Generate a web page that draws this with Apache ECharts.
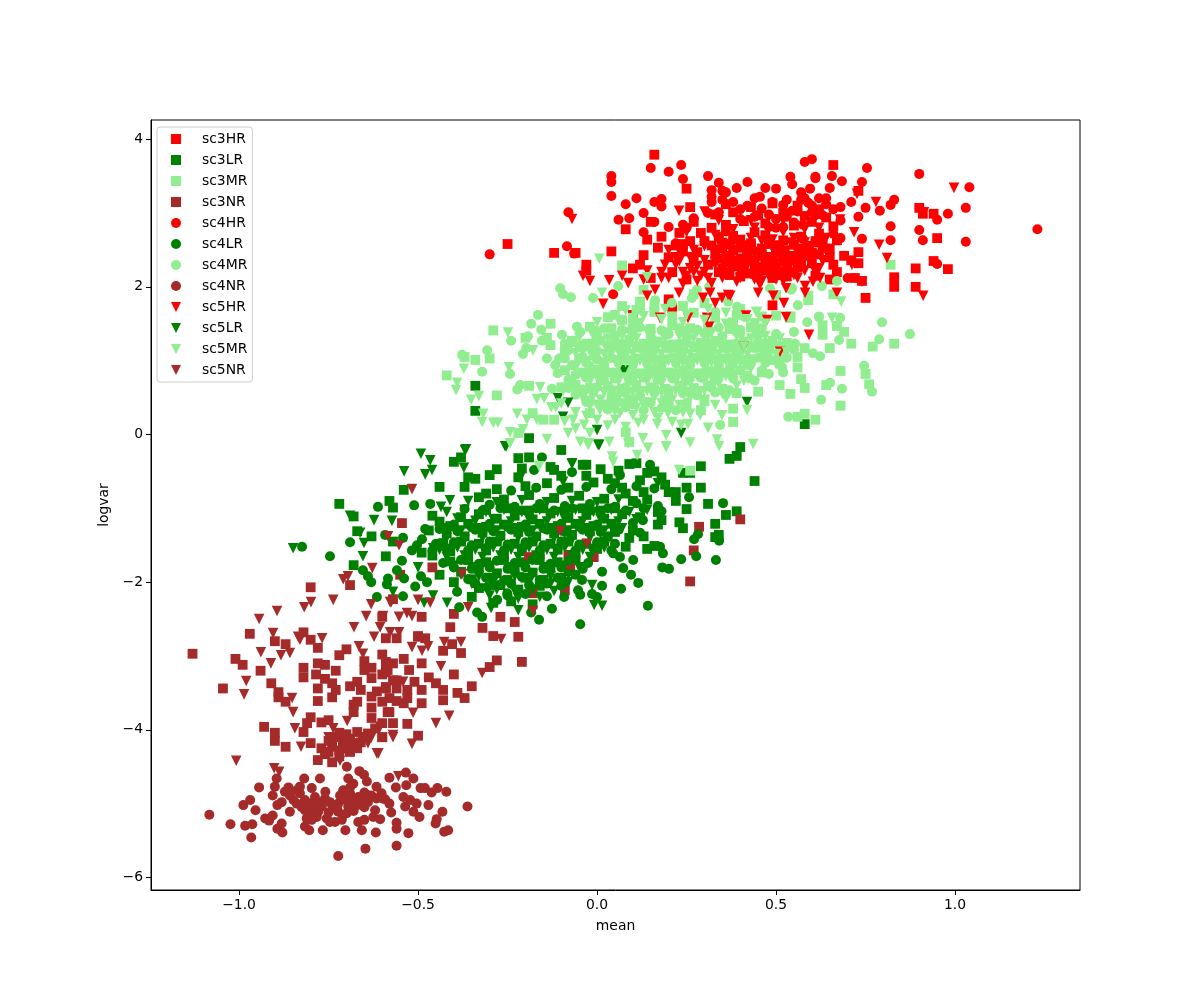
<!DOCTYPE html>
<html><head><meta charset="utf-8">
<style>html,body{margin:0;padding:0;background:#fff}#c{width:1200px;height:1000px}</style>
<script src="https://cdn.jsdelivr.net/npm/echarts@6/dist/echarts.min.js"></script>
</head><body><div id="c"></div>
<script>
const xTickValues=[-1,-0.5,0,0.5,1];
const xTickLabels=['\u22121.0','\u22120.5','0.0','0.5','1.0'];
const yTickValues=[-6,-4,-2,0,2,4];
const yTickLabels=['\u22126','\u22124','\u22122','0','2','4'];
const sc3HR=[[0.16,3.79],[0.25,3.33],[0.66,3.65],[0.73,3.30],[0.26,3.08],[0.15,2.88],[0.08,2.78],[0.14,2.64],[0.18,2.68],[0.17,2.53],[0.04,2.48],[-0.06,2.46],[-0.03,2.30],[-0.03,2.22],[-0.25,2.58],[-0.12,2.46],[0.10,2.25],[0.29,2.73],[0.32,2.80],[0.34,2.68],[0.38,2.69],[0.28,2.47],[0.44,2.74],[0.43,2.59],[0.90,3.07],[0.91,2.99],[0.94,2.99],[0.95,2.66],[0.94,2.35],[0.89,2.25],[0.98,2.24],[0.83,2.13],[0.83,2.00],[0.89,2.00],[0.75,1.85],[0.74,2.08],[0.72,2.12],[0.73,2.47],[0.73,2.32],[0.69,2.42],[0.65,2.40],[0.60,2.46],[0.61,2.62],[0.67,2.20],[0.71,2.36],[0.10,1.62],[0.49,1.75],[0.21,1.71],[0.20,1.83],
[0.36,3.12],[0.43,3.08],[0.49,3.13],[0.56,3.10],[0.62,3.05],[0.33,2.98],[0.38,3.01],[0.45,2.97],[0.52,3.00],[0.58,2.96],[0.64,2.94],[0.27,2.88],[0.36,2.84],[0.41,2.89],[0.47,2.86],[0.55,2.83],[0.60,2.88],[0.66,2.82],[0.23,2.73],[0.30,2.62],[0.35,2.60],[0.40,2.64],[0.47,2.70],[0.52,2.63],[0.57,2.68],[0.62,2.72],[0.67,2.63],[0.22,2.56],[0.27,2.35],[0.33,2.44],[0.38,2.50],[0.42,2.44],[0.46,2.52],[0.50,2.47],[0.54,2.42],[0.57,2.52],[0.63,2.54],[0.31,2.30],[0.36,2.33],[0.40,2.28],[0.44,2.36],[0.48,2.30],[0.52,2.34],[0.56,2.26],[0.60,2.32],[0.66,2.30],[0.34,2.20],[0.42,2.18],[0.47,2.22],[0.51,2.16],[0.55,2.20],[0.61,2.15],[0.65,2.10],[0.21,2.20],[0.25,2.10],[0.13,2.43],[0.20,2.40],[0.24,2.58],[0.12,2.30],[0.15,2.12],
[0.32,2.56],[0.35,2.52],[0.37,2.58],[0.40,2.53],[0.43,2.56],[0.48,2.58],[0.51,2.54],[0.55,2.57],[0.59,2.53],[0.34,2.38],[0.37,2.42],[0.39,2.36],[0.42,2.40],[0.46,2.42],[0.49,2.38],[0.52,2.41],[0.56,2.37],[0.58,2.42],[0.35,2.25],[0.38,2.28],[0.41,2.23],[0.44,2.26],[0.47,2.30],[0.50,2.26],[0.53,2.23],[0.57,2.30],[0.37,2.16],[0.40,2.14],[0.45,2.16],[0.49,2.12],[0.53,2.14],[0.24,2.48],[0.26,2.62],[0.62,2.60],[0.65,2.52],[0.62,2.44]];
const sc3LR=[[0.58,0.14],[0.40,-0.17],[0.39,-0.29],[0.37,-0.33],[-0.34,0.66],[-0.34,0.32],[-0.19,-0.05],[-0.10,-0.21],[-0.22,-0.32],[-0.19,-0.31],[-0.40,-0.37],[-0.38,-0.31],[-0.44,-0.71],[-0.54,-0.75],[-0.72,-0.94],[-0.58,-0.90],[-0.57,-0.99],[-0.68,-1.11],[-0.67,-1.31],[-0.63,-1.38],[-0.57,-1.45],[-0.59,-1.65],[-0.68,-1.77],[-0.28,-0.47],[-0.30,-0.55],[-0.34,-0.60],[-0.37,-0.71],[-0.36,-0.58],[-0.21,-0.46],[-0.13,-0.44],[-0.12,-0.48],[-0.04,-0.41],[-0.03,-0.41],[-0.03,-0.56],[0.09,-0.40],[0.11,-0.39],[0.29,-0.43],[0.24,-0.52],[0.26,-0.52],[0.05,-0.66],[0.18,-0.58],[0.29,-0.72],[0.20,-0.78],[0.22,-0.78],[0.13,-0.78],[0.10,-0.90],[0.31,-0.94],[0.25,-1.01],[0.36,-1.09],[0.39,-1.04],[0.44,-0.63],[0.18,-1.16],[0.23,-1.19],[0.24,-1.27],[0.33,-1.21],[0.33,-1.39],[0.34,-1.36],[0.14,-1.55],[0.16,-1.51],[0.09,-1.40],[-0.01,-1.66],[0.05,-1.32],
[-0.33,-0.85],[-0.26,-0.88],[-0.19,-0.82],[-0.12,-0.86],[-0.05,-0.83],[0.02,-0.87],[0.08,-0.80],[0.14,-0.88],[-0.38,-1.12],[-0.33,-1.08],[-0.28,-1.14],[-0.23,-1.10],[-0.18,-1.15],[-0.13,-1.07],[-0.08,-1.13],[-0.03,-1.09],[0.02,-1.14],[0.07,-1.08],[0.12,-1.12],[0.17,-1.05],[-0.44,-1.18],[-0.42,-1.34],[-0.37,-1.38],[-0.32,-1.33],[-0.27,-1.37],[-0.22,-1.32],[-0.17,-1.38],[-0.12,-1.34],[-0.07,-1.36],[-0.02,-1.31],[0.03,-1.38],[0.10,-1.30],[-0.46,-1.64],[-0.41,-1.58],[-0.36,-1.62],[-0.31,-1.57],[-0.26,-1.63],[-0.21,-1.58],[-0.16,-1.62],[-0.11,-1.56],[-0.06,-1.61],[0.0,-1.55],[-0.38,-1.86],[-0.33,-1.82],[-0.28,-1.88],[-0.23,-1.83],[-0.18,-1.87],[-0.13,-1.81],[-0.08,-1.85],[-0.33,-2.08],[-0.27,-2.04],[-0.22,-2.10],[-0.16,-2.05],[-0.24,-2.26],[-0.18,-2.30],[-0.29,-2.28],
[-0.31,-1.02],[-0.25,-1.00],[-0.19,-1.03],[-0.15,-1.00],[-0.09,-1.03],[-0.04,-1.00],[0.01,-1.03],[0.05,-1.00],[-0.41,-1.24],[-0.36,-1.21],[-0.31,-1.25],[-0.26,-1.22],[-0.21,-1.25],[-0.16,-1.21],[-0.11,-1.24],[-0.06,-1.21],[-0.01,-1.24],[0.04,-1.21],[-0.43,-1.47],[-0.38,-1.45],[-0.33,-1.48],[-0.28,-1.45],[-0.23,-1.48],[-0.18,-1.45],[-0.13,-1.48],[-0.08,-1.45],[-0.03,-1.48],[0.02,-1.45],[-0.41,-1.72],[-0.36,-1.70],[-0.31,-1.73],[-0.26,-1.70],[-0.21,-1.73],[-0.16,-1.70],[-0.11,-1.73],[-0.06,-1.70],[-0.35,-1.96],[-0.30,-1.94],[-0.25,-1.97],[-0.20,-1.94],[-0.15,-1.97],[-0.10,-1.94],
[-0.20,-0.70],[-0.14,-0.66],[-0.08,-0.72],[-0.01,-0.65],[0.03,-0.60],[0.07,-0.72],[0.12,-0.62],[0.16,-0.50],[0.19,-0.68],[0.14,-0.52],[-0.28,-0.74],[-0.31,-0.80],[-0.22,-0.58],[-0.10,-0.56],[0.01,-0.47],[0.06,-0.49],[0.22,-0.90],[0.25,-0.72],[0.17,-1.22],[0.13,-1.38],[0.08,-1.52],[-0.46,-1.10],[-0.47,-1.30],[-0.49,-1.60],[-0.35,-2.20],[-0.40,-2.00],[-0.44,-1.90]];
const sc3MR=[[-0.29,1.41],[-0.13,1.50],[-0.20,1.31],[-0.13,1.21],[-0.14,1.31],[-0.30,1.03],[-0.34,1.01],[-0.37,1.05],[-0.42,0.80],[-0.28,0.53],[-0.19,0.66],[-0.18,0.29],[-0.15,0.20],[-0.12,0.20],[-0.02,0.29],[0.03,0.37],[0.08,0.03],[0.09,-0.10],[-0.22,0.02],[-0.07,1.25],[-0.09,1.13],[0.07,1.55],[0.03,1.59],[0.83,1.23],[0.77,1.19],[0.68,0.86],[0.75,0.82],[0.76,0.68],[0.68,0.39],[0.58,0.28],[0.61,0.20],[0.56,0.24],[0.54,0.55],[0.58,0.63],[0.57,0.75],[0.56,0.91],[0.56,1.05],[0.58,1.17],[0.65,1.17],[0.71,1.23],[0.69,1.39],[0.63,1.35],[0.63,1.48],[0.67,1.47],[0.54,1.58],[0.50,1.61],[0.38,1.52],[0.44,1.51],[0.64,0.67],[0.38,0.35],[0.38,0.17],[0.45,0.58],[0.39,0.56],[0.25,0.40],[0.29,0.33],[0.51,0.67],[0.82,2.30],[0.59,1.88],[0.66,1.90],[0.07,2.29],[0.13,1.96],[0.11,1.69],[0.12,1.72],[0.54,1.60],[0.50,1.89],[0.59,1.82],[0.26,-0.49],
[-0.02,1.46],[0.04,1.44],[0.10,1.47],[0.15,1.43],[0.21,1.48],[0.26,1.44],[0.31,1.46],[0.37,1.43],[0.43,1.45],[-0.07,1.27],[-0.03,1.23],[0.01,1.27],[0.05,1.24],[0.09,1.28],[0.13,1.23],[0.17,1.26],[0.21,1.22],[0.25,1.27],[0.29,1.24],[0.33,1.27],[0.37,1.22],[0.41,1.26],[0.45,1.23],[0.49,1.27],[0.53,1.24],[-0.05,1.03],[-0.01,1.07],[0.03,1.04],[0.07,1.08],[0.11,1.03],[0.15,1.06],[0.19,1.02],[0.23,1.07],[0.27,1.04],[0.31,1.08],[0.35,1.03],[0.39,1.06],[0.43,1.02],[0.47,1.06],[0.51,1.03],[-0.09,0.87],[-0.04,0.84],[0.0,0.88],[0.04,0.84],[0.08,0.87],[0.12,0.83],[0.16,0.88],[0.20,0.84],[0.24,0.87],[0.28,0.83],[0.32,0.86],[0.36,0.84],[0.40,0.87],[0.46,0.84],[-0.10,0.64],[-0.06,0.67],[-0.02,0.63],[0.03,0.66],[0.07,0.62],[0.11,0.67],[0.15,0.64],[0.19,0.62],[0.23,0.66],[0.27,0.63],[0.31,0.66],[0.35,0.62],[-0.02,0.46],[0.04,0.43],[0.09,0.47],[0.14,0.44],[0.19,0.46],[0.30,0.45],
[0.10,1.58],[0.16,1.66],[0.21,1.60],[0.27,1.65],[0.33,1.58],[0.39,1.62],[0.16,1.75],[0.24,1.74],[0.30,1.78],[0.46,1.60],[0.12,1.80],[0.07,1.74],[0.27,1.90],[0.40,1.70],[0.05,1.62]];
const sc3NR=[[-0.545,-1.20],[-0.80,-2.07],[-0.69,-2.04],[-0.57,-2.23],[-0.49,-2.47],[-0.60,-2.47],[-0.82,-2.68],[-0.41,-2.61],[-0.40,-2.43],[-0.32,-2.62],[-0.27,-2.47],[-0.23,-2.54],[-0.29,-2.73],[-0.50,-2.74],[-0.55,-1.90],[-0.46,-1.80],[0.285,-1.25],[0.40,-1.15],[0.27,-1.57],[0.26,-1.99],[-0.09,-2.11],[-0.22,-2.74],[-0.405,-2.84],[-0.43,-2.93],[-0.38,-2.96],[-0.21,-3.08],[-0.28,-3.06],[-0.30,-3.15],[-0.40,-3.25],[-0.35,-3.41],[-0.47,-3.29],[-0.45,-3.37],[-0.43,-3.46],[-0.39,-3.50],[-0.37,-3.57],[-0.43,-3.60],[-0.49,-3.64],[-0.54,-3.04],[-0.49,-3.10],[-0.525,-3.19],[-0.51,-3.35],[-0.49,-3.46],[-0.53,-3.46],[-0.53,-3.57],[-0.56,-3.44],[-0.58,-3.57],[-0.56,-3.61],[-0.54,-3.64],[-0.58,-3.76],[-0.53,-3.92],[-0.50,-4.08],[-0.57,-3.91],[-0.60,-3.91],[-0.60,-4.10],[-0.50,-2.73],[-0.56,-2.76],[-0.59,-2.76],[-0.48,-2.76],[-0.57,-3.33],[-0.59,-3.10],[-0.57,-3.10],[-0.59,-3.22],[-0.59,-3.44],[-0.97,-2.70],[-1.13,-2.97],[-0.90,-2.80],[-0.87,-2.84],[-0.80,-2.78],[-0.78,-2.89],[-0.70,-2.91],[-0.72,-2.99],[-1.01,-3.04],[-0.99,-3.12],[-0.94,-3.20],[-0.78,-3.10],[-0.76,-3.12],[-0.73,-3.20],[-0.82,-3.16],[-0.82,-3.29],[-0.785,-3.25],[-0.76,-3.31],[-0.74,-3.37],[-0.78,-3.44],[-0.73,-3.46],[-0.74,-3.56],[-0.78,-3.61],[-1.045,-3.44],[-0.91,-3.37],[-0.89,-3.49],[-0.89,-3.56],[-0.87,-3.62],[-0.69,-3.41],[-0.67,-3.35],[-0.66,-3.46],[-0.615,-3.48],[-0.59,-3.42],[-0.65,-3.07],[-0.65,-3.19],[-0.63,-3.16],[-0.60,-2.98],[-0.59,-3.08],[-0.585,-3.19],[-0.56,-3.33],[-0.67,-3.62],[-0.68,-3.66],[-0.68,-3.76],[-0.63,-3.70],[-0.585,-3.76],[-0.63,-3.84],[-0.80,-3.83],[-0.81,-3.91],[-0.77,-3.90],[-0.75,-3.87],[-0.82,-4.03],[-0.93,-3.96],[-0.90,-4.04],[-0.90,-4.15],[-0.87,-4.23],[-0.80,-4.18],[-0.60,-4.10],[-0.77,-4.25],[-0.74,-4.23],[-0.71,-4.14],[-0.67,-4.03],[-0.68,-4.18],[-0.66,-4.17],[-0.72,-4.04],[-0.78,-4.41],[-0.74,-4.44],[-0.72,-4.28],[-0.70,-4.22],[-0.76,-4.33],[-0.72,-4.36],[-0.19,-1.66],[-0.08,-1.63],[-0.01,-1.66],[-0.075,-1.81],[-0.18,-2.15],[-0.75,-4.15],[-0.73,-4.10],[-0.70,-4.06],[-0.69,-4.12],[-0.75,-4.30],[-0.67,-4.25],[-0.71,-4.25],[-0.69,-4.30],[-0.64,-4.05],[-0.62,-3.98],[-0.63,-3.30],[-0.60,-3.25],[-0.63,-3.55],[-0.60,-3.62]];
const sc4HR=[[0.58,3.69],[0.60,3.73],[0.754,3.61],[0.656,3.50],[0.61,3.49],[0.684,3.43],[0.74,3.42],[0.90,3.53],[1.04,3.35],[0.65,3.34],[0.595,3.33],[0.83,3.18],[0.82,3.11],[0.79,3.03],[1.03,3.07],[0.98,2.99],[0.95,2.91],[0.82,2.82],[0.90,2.77],[1.23,2.78],[1.03,2.61],[0.91,2.63],[0.82,2.63],[0.74,2.65],[0.68,2.66],[0.95,2.31],[0.71,3.15],[0.75,3.07],[0.73,2.95],[0.68,3.08],[0.62,3.20],[0.64,3.20],[0.58,3.20],[0.63,2.97],[0.61,2.97],[0.70,2.12],[0.15,3.61],[0.20,3.56],[0.235,3.65],[0.24,3.46],[0.04,3.50],[0.04,3.42],[0.04,3.23],[0.11,3.20],[0.08,3.12],[0.16,3.15],[0.18,3.19],[0.18,3.09],[0.13,3.00],[0.09,2.93],[0.06,2.91],[0.16,2.88],[0.13,2.74],[-0.08,3.01],[-0.084,2.55],[-0.064,2.45],[-0.30,2.44],[0.045,1.90],[0.20,2.81],[0.31,3.50],[0.34,3.41],[0.32,3.31],[0.32,3.22],[0.32,3.15],[0.39,3.34],[0.42,3.42],[0.47,3.34],[0.50,3.33],[0.54,3.49],[0.545,3.39],[0.61,3.47],[0.35,3.30],[0.36,3.28],[0.38,3.15],[0.34,3.01],[0.31,3.00],[0.27,2.93],[0.24,2.84],[0.25,2.80],[0.455,3.22],[0.44,3.20],[0.46,3.06],[0.52,3.11],[0.545,3.03],[0.49,3.15],[0.57,3.18],[0.59,3.14],[0.60,3.01],[0.48,2.81],[0.52,2.81],[0.55,2.87],[0.575,2.84],[0.575,2.65],[0.50,2.80],[0.22,2.59],[0.42,3.10],[0.40,3.05],[0.35,3.18],[0.53,3.18],[0.56,3.02],[0.44,2.95],[0.50,2.92],[0.40,2.92],[0.57,3.28],[0.60,3.10],[0.66,3.05],[0.64,3.12],[0.53,2.95],[0.48,2.98],[0.36,2.75],[0.68,2.90],[0.66,2.72],[0.63,2.62]];
const sc4LR=[[0.064,-0.55],[-0.154,-0.31],[-0.176,-0.48],[-0.07,-0.51],[0.148,-0.41],[0.352,-0.93],[0.257,-0.85],[0.128,-1.16],[0.282,-1.35],[0.271,-1.42],[0.341,-1.44],[0.277,-1.65],[0.332,-1.70],[0.235,-1.69],[0.101,-1.70],[0.182,-1.80],[0.201,-1.82],[0.184,-1.61],[0.176,-1.52],[0.115,-2.01],[0.095,-1.90],[0.073,-1.81],[0.064,-1.66],[0.045,-1.61],[0.014,-1.86],[0.014,-2.05],[0.067,-2.09],[0.142,-2.32],[-0.047,-2.57],[-0.162,-2.51],[-0.126,-2.36],[-0.184,-2.41],[-0.092,-2.20],[-0.047,-2.17],[-0.014,-2.16],[0.0,-2.20],[-0.025,-1.74],[-0.053,-2.11],[-0.042,-1.97],[-0.824,-1.52],[-0.746,-1.65],[-0.69,-1.46],[-0.612,-0.98],[-0.511,-0.96],[-0.466,-0.94],[-0.48,-1.28],[-0.592,-1.36],[-0.542,-1.40],[-0.489,-1.42],[-0.503,-1.50],[-0.517,-1.57],[-0.545,-1.71],[-0.654,-1.84],[-0.64,-1.92],[-0.631,-2.00],[-0.584,-1.95],[-0.587,-2.03],[-0.559,-1.84],[-0.539,-1.95],[-0.615,-2.20],[-0.542,-2.19],[-0.492,-1.92],[-0.475,-2.00],[-0.508,-2.06],[-0.385,-2.34],[-0.321,-2.47],[-0.335,-2.41],[-0.279,-2.24],[-0.307,-2.07],[-0.422,-1.54],[-0.391,-2.13],[-0.251,-2.15],
[-0.30,-0.95],[-0.23,-0.98],[-0.16,-0.94],[-0.09,-0.97],[-0.02,-0.94],[0.05,-0.98],[0.11,-0.93],[0.17,-0.97],[-0.40,-1.22],[-0.35,-1.26],[-0.30,-1.21],[-0.25,-1.25],[-0.20,-1.22],[-0.15,-1.27],[-0.10,-1.21],[-0.05,-1.25],[0.0,-1.22],[0.05,-1.26],[0.10,-1.20],[-0.45,-1.48],[-0.40,-1.46],[-0.35,-1.50],[-0.30,-1.45],[-0.25,-1.49],[-0.20,-1.46],[-0.15,-1.50],[-0.10,-1.45],[-0.05,-1.49],[0.0,-1.46],[0.05,-1.48],[-0.43,-1.74],[-0.38,-1.70],[-0.33,-1.75],[-0.28,-1.71],[-0.23,-1.74],[-0.18,-1.70],[-0.13,-1.75],[-0.08,-1.71],[-0.36,-1.96],[-0.31,-1.94],[-0.26,-1.98],[-0.21,-1.93],[-0.16,-1.97],[-0.11,-1.94],[-0.06,-1.90],[-0.25,-2.18],[-0.20,-2.16],[-0.14,-2.19],[-0.10,-2.05],
[-0.17,-0.72],[-0.10,-0.75],[-0.03,-0.71],[0.04,-0.74],[0.11,-0.70],[0.16,-0.73],[-0.24,-0.76],[-0.37,-1.01],[-0.32,-1.03],[-0.27,-1.00],[-0.21,-1.03],[-0.17,-1.00],[-0.12,-1.03],[-0.07,-1.00],[-0.02,-1.03],[0.03,-1.00],[0.08,-1.03],[0.13,-1.00],[0.18,-1.04],[-0.44,-1.28],[-0.39,-1.31],[-0.34,-1.29],[-0.29,-1.31],[-0.24,-1.29],[-0.19,-1.32],[-0.14,-1.29],[-0.09,-1.32],[-0.04,-1.29],[0.01,-1.32],[0.06,-1.29],[0.12,-1.33],[-0.46,-1.57],[-0.41,-1.54],[-0.36,-1.57],[-0.31,-1.54],[-0.26,-1.57],[-0.21,-1.54],[-0.16,-1.57],[-0.11,-1.54],[-0.06,-1.57],[-0.01,-1.54],[0.04,-1.57],[-0.40,-1.80],[-0.35,-1.82],[-0.30,-1.80],[-0.25,-1.82],[-0.20,-1.80],[-0.15,-1.82],[-0.10,-1.80],[-0.04,-1.82],[-0.34,-2.02],[-0.29,-2.04],[-0.24,-2.02],[-0.19,-2.04],[-0.14,-2.02],[-0.09,-2.00]];
const sc4MR=[[-0.103,1.98],[-0.095,1.90],[-0.073,1.86],[-0.011,1.85],[0.059,2.01],[-0.165,1.62],[-0.184,1.50],[-0.156,1.42],[-0.193,1.33],[-0.098,1.35],[-0.24,1.27],[-0.154,1.27],[-0.056,1.46],[-0.047,1.39],[-0.003,1.41],[-0.377,1.08],[-0.307,1.14],[-0.321,0.85],[-0.243,0.82],[-0.207,1.09],[-0.198,1.17],[-0.14,1.03],[-0.117,0.94],[-0.106,1.03],[-0.215,0.67],[-0.223,0.61],[-0.126,0.62],[0.796,1.52],[0.788,1.29],[0.874,1.36],[0.746,0.93],[0.768,0.58],[0.684,0.62],[0.626,0.47],[0.534,0.24],[0.651,0.70],[0.676,1.28],[0.603,1.10],[0.623,1.06],[0.587,1.52],[0.62,1.59],[0.679,1.58],[0.628,2.01],[0.67,2.08],[0.162,1.82],[0.209,1.78],[0.391,1.73],[0.366,1.80],[0.33,1.66],[0.561,1.75],[0.542,1.96],[0.55,1.39],[0.553,1.23],[0.483,1.01],[0.517,0.91],[0.461,0.87],[0.427,0.76],[0.372,0.91],[0.268,0.58],[0.344,0.13],[0.279,1.96],[0.313,2.00],[0.265,1.85],[0.413,1.59],[0.483,1.98],[0.545,1.98],[0.62,1.60],
[0.0,1.37],[0.05,1.34],[0.10,1.38],[0.15,1.33],[0.20,1.36],[0.25,1.34],[0.30,1.37],[0.35,1.33],[0.40,1.37],[0.45,1.34],[0.50,1.36],[-0.08,1.14],[-0.04,1.17],[0.0,1.13],[0.04,1.16],[0.08,1.13],[0.12,1.17],[0.16,1.14],[0.20,1.16],[0.24,1.12],[0.28,1.17],[0.32,1.13],[0.36,1.16],[0.40,1.13],[0.44,1.17],[0.48,1.13],[0.52,1.16],[-0.07,0.94],[-0.03,0.97],[0.02,0.93],[0.06,0.97],[0.10,0.94],[0.14,0.96],[0.18,0.93],[0.22,0.97],[0.26,0.94],[0.30,0.97],[0.34,0.93],[0.38,0.97],[0.42,0.94],[0.47,0.97],[-0.08,0.74],[-0.03,0.77],[0.01,0.73],[0.05,0.76],[0.09,0.73],[0.13,0.77],[0.17,0.74],[0.21,0.76],[0.25,0.73],[0.29,0.77],[0.33,0.74],[0.38,0.76],[0.44,0.73],[-0.06,0.54],[-0.01,0.57],[0.04,0.53],[0.08,0.56],[0.12,0.53],[0.16,0.57],[0.20,0.53],[0.24,0.56],[0.28,0.53],[0.33,0.57],[0.03,0.34],[0.08,0.37],[0.13,0.33],[0.18,0.36],[0.22,0.33],
[0.02,1.44],[0.07,1.42],[0.12,1.45],[0.18,1.41],[0.23,1.44],[0.28,1.42],[0.34,1.45],[0.40,1.42],[0.46,1.44],[-0.09,1.23],[-0.05,1.21],[-0.01,1.24],[0.03,1.21],[0.07,1.23],[0.11,1.20],[0.15,1.24],[0.19,1.21],[0.23,1.23],[0.27,1.20],[0.31,1.24],[0.35,1.21],[0.39,1.23],[0.43,1.20],[0.47,1.24],[0.51,1.20],[0.55,1.15],[-0.09,1.03],[-0.04,1.05],[0.0,1.02],[0.04,1.04],[0.09,1.01],[0.13,1.05],[0.17,1.02],[0.21,1.04],[0.25,1.01],[0.29,1.05],[0.33,1.02],[0.37,1.04],[0.41,1.01],[0.45,1.04],[0.49,1.01],[0.53,1.04],[-0.11,0.83],[-0.06,0.81],[-0.02,0.84],[0.02,0.81],[0.06,0.84],[0.10,0.80],[0.14,0.84],[0.18,0.81],[0.22,0.83],[0.26,0.80],[0.30,0.84],[0.34,0.81],[0.38,0.83],[0.42,0.80],[0.48,0.82],[0.52,0.84],[-0.08,0.63],[-0.04,0.61],[0.0,0.64],[0.04,0.61],[0.08,0.64],[0.12,0.60],[0.16,0.63],[0.20,0.60],[0.24,0.63],[0.28,0.60],[0.32,0.63],[0.37,0.60],[-0.03,0.44],[0.02,0.41],[0.06,0.44],[0.10,0.41],[0.15,0.43],[0.20,0.40],[0.25,0.43]];
const sc4NR=[[-1.083,-5.15],[-1.024,-5.28],[-0.983,-5.30],[-0.963,-5.28],[-0.966,-5.46],[-0.988,-5.02],[-0.969,-4.95],[-0.954,-5.09],[-0.944,-4.78],[-0.927,-5.20],[-0.916,-5.23],[-0.906,-5.16],[-0.893,-5.34],[-0.879,-5.39],[-0.881,-5.27],[-0.858,-5.11],[-0.906,-4.89],[-0.893,-5.02],[-0.90,-4.77],[-0.895,-4.66],[-0.872,-4.84],[-0.862,-4.78],[-0.881,-4.98],[-0.839,-4.82],[-0.83,-4.77],[-0.818,-4.66],[-0.797,-4.79],[-0.788,-4.91],[-0.839,-5.00],[-0.816,-4.95],[-0.774,-4.66],[-0.759,-4.84],[-0.816,-5.09],[-0.792,-5.07],[-0.769,-5.04],[-0.746,-4.98],[-0.811,-5.20],[-0.783,-5.18],[-0.816,-5.31],[-0.804,-5.36],[-0.766,-5.36],[-0.755,-5.20],[-0.732,-5.25],[-0.713,-5.22],[-0.723,-5.71],[-0.703,-5.36],[-0.647,-5.61],[-0.699,-4.50],[-0.695,-4.66],[-0.681,-4.73],[-0.709,-4.82],[-0.718,-4.89],[-0.69,-4.86],[-0.723,-5.00],[-0.723,-5.11],[-0.699,-5.13],[-0.681,-5.02],[-0.667,-4.91],[-0.664,-4.56],[-0.651,-4.61],[-0.643,-4.70],[-0.616,-4.77],[-0.643,-4.88],[-0.616,-4.93],[-0.592,-4.94],[-0.62,-5.09],[-0.606,-5.21],[-0.625,-5.18],[-0.667,-5.25],[-0.65,-5.22],[-0.657,-5.36],[-0.618,-5.39],[-0.575,-5.12],[-0.56,-5.26],[-0.56,-5.34],[-0.527,-5.40],[-0.56,-5.57],[-0.58,-4.65],[-0.562,-4.78],[-0.534,-4.58],[-0.533,-4.75],[-0.513,-4.66],[-0.541,-4.91],[-0.522,-4.95],[-0.536,-5.04],[-0.504,-5.00],[-0.513,-5.11],[-0.496,-5.18],[-0.493,-4.79],[-0.481,-4.79],[-0.462,-4.85],[-0.446,-4.79],[-0.421,-4.84],[-0.471,-5.02],[-0.432,-5.11],[-0.448,-5.21],[-0.451,-5.27],[-0.427,-5.38],[-0.416,-5.36],[-0.362,-5.04],[-0.858,-4.89],[-0.848,-4.95],[-0.802,-5.00],[-0.779,-5.11],[-0.727,-5.07],[-0.704,-4.95],[-0.695,-5.04],[-0.653,-4.93],[-0.63,-4.89],[-0.602,-4.86],[-0.797,-5.22],[-0.746,-5.25],[-0.83,-4.86],[-0.825,-5.05],[-0.785,-4.97],[-0.76,-4.93],[-0.80,-5.13],[-0.71,-4.90],[-0.69,-4.78],[-0.685,-4.95],[-0.67,-5.02],[-0.65,-4.85],[-0.60,-4.93],[-0.58,-5.00],[-0.74,-5.02],[-0.71,-5.15],[-0.68,-5.10],[-0.65,-5.05],[-0.77,-4.98],[-0.80,-5.06],[-0.64,-4.98],[-0.75,-5.12]];
const sc5HR=[[-0.07,2.92],[0.229,3.03],[-0.039,2.15],[-0.02,2.08],[0.034,2.09],[0.017,1.77],[0.14,1.88],[0.07,2.15],[0.087,2.05],[0.176,1.58],[0.254,1.58],[0.307,1.58],[0.313,1.46],[0.416,1.61],[0.475,1.55],[0.528,1.59],[0.592,1.35],[0.492,1.88],[0.522,1.78],[0.45,1.92],[0.455,2.03],[0.528,1.98],[0.581,1.92],[0.581,2.01],[0.372,1.88],[0.349,1.85],[0.33,1.78],[0.296,1.85],[0.316,1.92],[0.229,1.92],[0.162,1.96],[0.997,3.34],[0.913,3.01],[0.779,3.15],[0.718,2.74],[0.788,2.57],[0.81,2.39],[0.911,1.88],[0.67,1.92],[0.74,2.07],[0.679,2.91],[0.726,3.26],[0.631,2.36],[0.712,2.30],[0.603,2.07],[0.623,2.12],[0.41,1.19],[0.511,1.12],[0.366,1.89],
[0.25,2.74],[0.30,2.55],[0.33,2.70],[0.27,2.50],[0.22,2.30],[0.26,2.25],[0.30,2.20],[0.35,2.12],[0.39,2.07],[0.44,2.10],[0.48,2.14],[0.52,2.08],[0.56,2.12],[0.20,2.12],[0.24,2.04],[0.28,2.08],[0.32,2.05],[0.36,2.40],[0.40,2.38],[0.44,2.44],[0.48,2.40],[0.52,2.46],[0.56,2.38],[0.60,2.40],[0.38,2.25],[0.42,2.30],[0.46,2.26],[0.50,2.24],[0.54,2.30],[0.58,2.22],[0.62,2.25],[0.41,2.56],[0.46,2.62],[0.50,2.56],[0.54,2.60],[0.58,2.60],[0.36,2.54],[0.64,2.48],[0.44,2.80],[0.38,2.78],[0.52,2.74],[0.58,2.78],[0.62,2.80],[0.34,2.90],[0.43,2.90],[0.30,3.02],[0.52,2.90],[0.64,2.66],[0.19,2.30],[0.18,2.20],[0.14,2.22],[0.18,2.12],[0.13,2.10],[0.30,2.36],[0.33,2.30],
[0.34,2.50],[0.38,2.46],[0.41,2.50],[0.45,2.47],[0.49,2.52],[0.53,2.49],[0.56,2.46],[0.59,2.48],[0.33,2.34],[0.37,2.30],[0.41,2.35],[0.44,2.32],[0.47,2.36],[0.50,2.33],[0.54,2.36],[0.57,2.32],[0.36,2.19],[0.40,2.20],[0.43,2.17],[0.46,2.20],[0.49,2.19],[0.52,2.20],[0.55,2.16],[0.40,2.12],[0.46,2.08],[0.50,2.10],[0.24,2.20],[0.28,2.28],[0.26,2.40],[0.23,2.48],[0.29,2.15],[0.34,2.62],[0.38,2.60],[0.43,2.66],[0.49,2.64],[0.55,2.66],[0.22,2.40],[0.20,2.50],[0.25,2.15],[0.31,2.12],[0.27,2.20],[0.23,2.35],[0.60,2.55],[0.63,2.35],[0.61,2.20]];
const sc5LR=[[-0.492,-0.26],[-0.466,-0.35],[-0.461,-0.48],[-0.48,-0.54],[-0.539,-0.50],[-0.366,-0.20],[-0.254,-0.16],[-0.849,-1.54],[-0.69,-1.10],[-0.623,-1.16],[-0.573,-1.17],[-0.662,-1.33],[-0.651,-1.47],[-0.654,-1.65],[-0.458,-1.54],[-0.436,-0.98],[-0.411,-0.89],[-0.50,-1.80],[-0.57,-2.13],[-0.483,-2.28],[-0.458,-2.18],[-0.419,-2.28],[-0.296,-2.35],[-0.372,-0.45],[-0.014,-2.04],[-0.008,-2.31],[0.014,-2.32],[-0.07,-0.40],[-0.215,-0.59],[-0.095,-0.64],[0.006,-0.14],[0.17,-0.66],[-0.22,-2.38],[0.419,0.44],[0.235,0.02],[0.075,0.87],[-0.109,0.49],[-0.081,0.43],[-0.257,-0.16],[-0.369,-0.21],[-0.07,-0.39],[0.0,0.06],[0.003,-0.14],[-0.095,0.24],
[-0.36,-0.90],[-0.28,-0.92],[-0.21,-0.89],[-0.14,-0.92],[-0.07,-0.90],[0.0,-0.92],[0.06,-0.88],[-0.42,-1.05],[-0.37,-1.02],[-0.31,-1.05],[-0.26,-1.02],[-0.21,-1.05],[-0.16,-1.02],[-0.11,-1.05],[-0.06,-1.02],[-0.01,-1.05],[0.04,-1.02],[0.09,-1.05],[0.14,-1.02],[-0.43,-1.27],[-0.38,-1.30],[-0.33,-1.27],[-0.28,-1.30],[-0.23,-1.27],[-0.18,-1.30],[-0.13,-1.27],[-0.08,-1.30],[-0.03,-1.27],[0.02,-1.30],[0.07,-1.27],[-0.44,-1.56],[-0.39,-1.53],[-0.34,-1.56],[-0.29,-1.53],[-0.24,-1.56],[-0.19,-1.53],[-0.14,-1.56],[-0.09,-1.53],[-0.04,-1.56],[0.02,-1.53],[-0.40,-1.78],[-0.35,-1.80],[-0.30,-1.78],[-0.25,-1.80],[-0.20,-1.78],[-0.15,-1.80],[-0.10,-1.78],[-0.05,-1.80],[-0.35,-2.02],[-0.29,-2.00],[-0.24,-2.03],[-0.19,-2.00],[-0.13,-2.02],[-0.08,-2.00],[-0.30,-2.18],[-0.22,-2.22],[-0.16,-2.20],
[-0.39,-1.14],[-0.34,-1.17],[-0.29,-1.15],[-0.24,-1.18],[-0.19,-1.15],[-0.14,-1.18],[-0.09,-1.15],[-0.04,-1.18],[0.01,-1.15],[0.06,-1.18],[0.11,-1.15],[-0.42,-1.40],[-0.37,-1.43],[-0.32,-1.40],[-0.27,-1.43],[-0.22,-1.40],[-0.17,-1.43],[-0.12,-1.40],[-0.07,-1.43],[-0.02,-1.40],[0.03,-1.43],[-0.42,-1.66],[-0.37,-1.64],[-0.32,-1.66],[-0.27,-1.64],[-0.22,-1.66],[-0.17,-1.64],[-0.12,-1.66],[-0.07,-1.64],[-0.02,-1.66],[-0.38,-1.90],[-0.33,-1.92],[-0.28,-1.90],[-0.23,-1.92],[-0.18,-1.90],[-0.13,-1.92],[-0.08,-1.90],[-0.28,-2.10],[-0.23,-2.12],[-0.18,-2.10],[-0.12,-2.12]];
const sc5MR=[[0.014,1.92],[0.14,2.13],[-0.249,1.38],[-0.179,1.14],[-0.372,0.89],[-0.246,0.91],[-0.391,0.70],[-0.394,0.60],[-0.352,0.47],[-0.33,0.52],[-0.159,0.64],[-0.168,0.48],[-0.148,0.49],[-0.095,0.59],[-0.128,0.37],[-0.115,0.37],[-0.318,0.28],[-0.321,0.17],[-0.29,0.16],[-0.277,0.16],[-0.223,0.28],[-0.196,0.20],[-0.168,0.20],[-0.243,0.03],[-0.207,0.07],[-0.243,-0.12],[-0.14,-0.06],[-0.081,0.02],[-0.067,0.20],[-0.036,0.13],[-0.02,0.02],[-0.047,-0.10],[-0.022,-0.12],[0.034,-0.10],[0.112,-0.28],[0.045,-0.37],[0.128,-0.05],[0.142,-0.18],[0.115,0.16],[0.008,0.33],[0.064,0.29],[0.193,-0.16],[0.26,-0.11],[0.341,-0.16],[0.436,-0.13],[0.229,-0.48],[-0.162,-0.43],[0.042,-0.30],[0.087,-0.12],[-0.025,-0.14],[0.682,1.80],[0.656,1.58],[0.444,1.66],[0.193,-0.01],[0.193,-0.17],[0.31,0.09],[0.335,-0.07],[0.254,0.14],[0.235,0.13],[0.198,0.29],[0.168,0.14],[0.288,0.26],[0.349,0.26],[0.419,0.33],[0.302,0.47],[0.006,2.38],[0.447,1.66],[0.08,0.10],[0.03,0.12],[0.13,0.20],
[0.0,1.52],[0.06,1.55],[0.12,1.51],[0.18,1.56],[0.24,1.52],[0.30,1.55],[0.36,1.50],[-0.05,1.31],[-0.01,1.33],[0.03,1.30],[0.07,1.33],[0.11,1.30],[0.15,1.33],[0.19,1.30],[0.23,1.33],[0.27,1.30],[0.31,1.33],[0.35,1.30],[0.39,1.33],[0.43,1.30],[0.47,1.33],[0.51,1.30],[-0.06,1.10],[-0.02,1.12],[0.02,1.09],[0.06,1.12],[0.10,1.09],[0.14,1.12],[0.18,1.09],[0.22,1.12],[0.26,1.09],[0.30,1.12],[0.34,1.09],[0.38,1.12],[0.42,1.09],[0.46,1.12],[0.50,1.09],[-0.06,0.90],[-0.02,0.92],[0.02,0.89],[0.06,0.92],[0.10,0.89],[0.14,0.92],[0.18,0.89],[0.22,0.92],[0.26,0.89],[0.30,0.92],[0.34,0.89],[0.38,0.92],[0.43,0.89],[-0.07,0.70],[-0.02,0.72],[0.02,0.69],[0.06,0.72],[0.10,0.69],[0.14,0.72],[0.18,0.69],[0.22,0.72],[0.26,0.69],[0.30,0.72],[0.34,0.69],[0.39,0.66],[-0.04,0.50],[0.01,0.47],[0.06,0.50],[0.11,0.47],[0.16,0.50],[0.21,0.47],[0.26,0.50],[-0.02,0.38],[0.05,0.32],[0.11,0.36],[0.16,0.30],[0.24,0.30],
[0.04,1.40],[0.09,1.38],[0.14,1.40],[0.20,1.38],[0.25,1.40],[0.32,1.38],[0.38,1.40],[0.44,1.38],[-0.04,1.18],[0.0,1.20],[0.04,1.17],[0.09,1.19],[0.13,1.16],[0.17,1.19],[0.21,1.16],[0.25,1.19],[0.29,1.16],[0.33,1.19],[0.37,1.16],[0.41,1.19],[0.45,1.16],[0.49,1.19],[0.53,1.12],[-0.03,0.99],[0.01,0.97],[0.05,1.00],[0.08,0.98],[0.12,1.00],[0.16,0.97],[0.20,1.00],[0.24,0.98],[0.28,1.00],[0.32,0.97],[0.36,1.00],[0.40,0.97],[0.44,1.00],[0.50,0.95],[-0.04,0.79],[0.0,0.77],[0.04,0.79],[0.08,0.77],[0.12,0.79],[0.16,0.77],[0.20,0.79],[0.24,0.77],[0.28,0.79],[0.32,0.77],[0.36,0.79],[0.41,0.73],[-0.03,0.59],[0.02,0.57],[0.06,0.59],[0.10,0.57],[0.14,0.59],[0.18,0.57],[0.22,0.59],[0.26,0.57],[0.30,0.59],[0.35,0.55],[0.0,0.40],[0.07,0.42],[0.13,0.40],[0.18,0.42],[0.23,0.40],
[-0.06,0.30],[-0.09,0.18],[0.0,0.20],[0.05,0.20],[0.10,0.26],[0.17,0.22],[0.21,0.17],[0.26,0.28],[0.33,0.40],[0.36,0.48],[-0.10,0.42],[-0.06,0.08],[-0.03,0.25],[0.08,1.68],[0.13,1.60],[0.19,1.70],[0.25,1.62],[0.31,1.70],[0.36,1.65],[0.42,1.56],[0.47,1.50]];
const sc5NR=[[-0.709,-1.96],[-0.696,-1.92],[-0.737,-2.24],[-0.799,-2.27],[-0.818,-2.34],[-0.894,-2.39],[-0.944,-2.50],[-0.905,-2.69],[-0.835,-2.74],[-0.83,-2.78],[-0.768,-2.76],[-0.939,-2.95],[-0.883,-2.99],[-0.858,-2.96],[-0.911,-3.10],[-0.98,-3.34],[-0.986,-3.52],[-0.849,-3.76],[-0.852,-3.57],[-0.844,-3.98],[-0.827,-4.23],[-1.008,-4.42],[-0.679,-2.61],[-0.645,-2.46],[-0.631,-2.30],[-0.578,-2.27],[-0.598,-2.46],[-0.606,-2.61],[-0.623,-2.74],[-0.665,-2.87],[-0.654,-2.97],[-0.698,-3.88],[-0.737,-3.98],[-0.743,-4.11],[-0.631,-4.11],[-0.615,-4.32],[-0.57,-4.07],[-0.606,-3.96],[-0.718,-4.42],[-0.902,-4.52],[-0.888,-4.57],[-0.555,-4.63],[-0.36,-2.34],[-0.50,-2.24],[-0.466,-2.28],[-0.575,-2.27],[-0.553,-2.47],[-0.531,-2.42],[-0.517,-2.46],[-0.179,-2.39],[-0.268,-2.77],[-0.427,-2.81],[-0.38,-2.81],[-0.436,-3.14],[-0.321,-3.23],[-0.514,-3.77],[-0.413,-3.81],[-0.45,-3.91],[-0.57,-4.10],[-0.517,-4.19],[-0.517,-2.88],[-0.489,-2.93],[-0.472,-2.87],[-0.578,-2.68],[-0.553,-2.68],[-0.542,-3.35],[-0.517,-0.74],[-0.584,-1.38],[-0.553,-1.50],[-0.628,-1.81],[-0.377,-1.89],[-0.103,-1.31],[-0.028,-1.48],[-0.70,-4.30],[-0.68,-4.28],[-0.66,-4.10],[-0.64,-4.18],[-0.611,-4.32],[-0.75,-4.10]];
const names=['sc3HR','sc3LR','sc3MR','sc3NR','sc4HR','sc4LR','sc4MR','sc4NR','sc5HR','sc5LR','sc5MR','sc5NR'];
const values=[sc3HR,sc3LR,sc3MR,sc3NR,sc4HR,sc4LR,sc4MR,sc4NR,sc5HR,sc5LR,sc5MR,sc5NR];
const colors=['#ff0000','#008000','#90ee90','#a52a2a'];
const square='path://M0,0L10,0L10,10L0,10Z';
const tri='path://M0,0L10,0L5,10Z';
const shapes=[square,'circle',tri];
const sizes=[9.8,10,10.6];
const font='"DejaVu Sans"';
const series=names.map((n,i)=>{const s=Math.floor(i/4);return{
  name:n,type:'scatter',data:values[i],symbol:shapes[s],symbolSize:sizes[s],
  itemStyle:{color:colors[i%4],opacity:1},emphasis:{disabled:true},animation:false,large:false,
  clip:true,z:2}});
const chart=echarts.init(document.getElementById('c'),null,{renderer:'canvas'});
chart.setOption({
  animation:false,backgroundColor:'#fff',
  grid:{left:151,top:120,width:929,height:770,show:true,borderColor:'#000',borderWidth:1,backgroundColor:'#fff',containLabel:false},
  xAxis:{type:'value',min:-1.246,max:1.349,name:'mean',nameLocation:'middle',nameGap:29,
    nameTextStyle:{fontFamily:font,fontSize:13.9,color:'#000'},
    splitLine:{show:false},axisLine:{show:true,onZero:false,lineStyle:{color:'#000',width:1}},
    axisTick:{show:true,length:5,lineStyle:{color:'#000',width:1},customValues:xTickValues},
    axisLabel:{color:'#000',fontFamily:font,fontSize:13.9,margin:8,customValues:xTickValues,showMinLabel:true,showMaxLabel:true,
      formatter:v=>xTickLabels[xTickValues.indexOf(v)]}},
  yAxis:{type:'value',min:-6.17,max:4.26,name:'logvar',nameLocation:'middle',nameGap:33,nameRotate:90,
    nameTextStyle:{fontFamily:font,fontSize:13.9,color:'#000'},
    splitLine:{show:false},axisLine:{show:true,onZero:false,lineStyle:{color:'#000',width:1}},
    axisTick:{show:true,length:5,lineStyle:{color:'#000',width:1},customValues:yTickValues},
    axisLabel:{color:'#000',fontFamily:font,fontSize:13.9,margin:8,customValues:yTickValues,
      formatter:v=>yTickLabels[yTickValues.indexOf(v)]}},
  legend:{show:true,orient:'vertical',left:157,top:127,align:'left',
    data:names.map((n,i)=>({name:n,icon:shapes[Math.floor(i/4)]})),
    itemWidth:24,itemHeight:10,itemGap:7,padding:[5,5,5,14],
    backgroundColor:'#fff',borderColor:'#ccc',borderWidth:1,borderRadius:3,
    selectedMode:false,
    textStyle:{fontFamily:font,fontSize:13.9,color:'#000',padding:[0,0,0,9]}},
  tooltip:{show:false},
  series:series
});
</script></body></html>
